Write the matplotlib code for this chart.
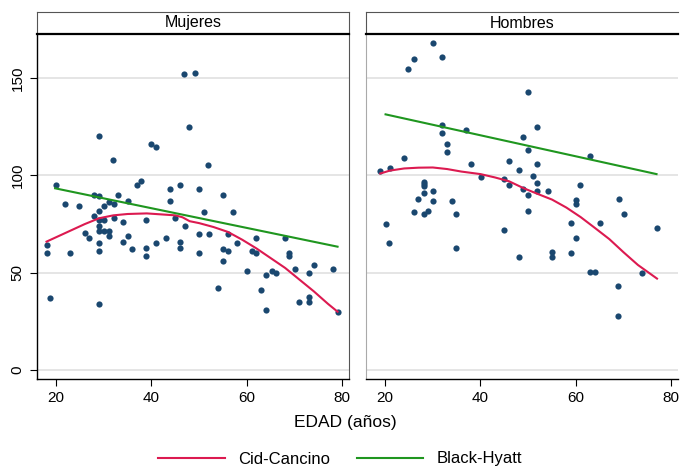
import matplotlib
matplotlib.use("Agg")
import matplotlib.pyplot as plt
from matplotlib.lines import Line2D

plt.rcParams['font.family'] = ['Liberation Sans', 'DejaVu Sans']

# --- data ---
# Mujeres
muj_edad = [46.8, 49.1, 47.9, 29.1, 40.0, 40.9, 32.0, 51.9, 20.0, 37.0, 37.9, 43.9, 46.0, 50.0, 54.9, 28.0, 29.0, 32.9,
            21.9, 24.9, 31.0, 30.0, 32.1, 35.0, 28.0, 29.0, 29.0, 30.0, 32.1, 34.0, 38.9, 29.0, 29.0, 30.0, 31.0, 31.0,
            26.0, 26.8, 35.0, 34.0, 29.0, 18.1, 18.1, 23.0, 29.0, 35.9, 38.9, 38.9, 40.9, 18.8, 29.0,
            43.9, 51.0, 57.0, 45.0, 47.0, 43.0, 46.0, 46.0, 50.0, 52.0, 50.0, 56.0, 54.9, 56.0, 58.0, 54.9, 61.0, 62.0,
            62.0, 60.0, 54.0, 62.9,
            68.0, 68.9, 68.9, 70.0, 74.0, 73.0, 78.0, 64.0, 65.2, 66.0, 64.0, 71.0, 73.0, 73.0, 79.0]
muj_val = [152.1, 152.9, 125.0, 120.2, 116.4, 114.8, 107.8, 105.2, 95.0, 95.2, 96.9, 93.0, 95.2, 93.0, 90.0, 90.0, 89.2, 90.0,
           85.1, 84.3, 86.5, 84.3, 85.1, 86.8, 79.1, 81.9, 77.1, 77.1, 78.0, 76.1, 77.1, 74.0, 71.4, 71.4, 71.4, 68.9,
           70.2, 68.0, 68.9, 65.9, 65.1, 64.2, 60.3, 60.3, 61.2, 62.0, 62.9, 58.7, 65.1, 37.2, 33.9,
           86.8, 81.0, 81.0, 78.0, 74.2, 68.0, 66.0, 62.5, 69.9, 69.9, 60.3, 69.9, 62.0, 61.2, 65.1, 55.9, 61.2, 60.3,
           68.0, 51.0, 42.0, 41.1,
           68.0, 60.3, 58.6, 51.9, 54.0, 50.0, 51.9, 48.8, 51.0, 50.0, 30.8, 34.8, 37.3, 34.8, 30.0]

muj_cid_x = [18, 22, 26, 29, 32, 35, 39, 42, 45, 46.5, 48, 50, 53, 56, 59, 62, 65, 68, 71, 74, 77, 79]
muj_cid_y = [66, 70.5, 75, 78, 79.5, 80.2, 80.5, 80, 79.5, 78.5, 76.5, 75.5, 73.5, 71, 67, 62.5, 57.5, 52.5, 46.5, 40.5, 34, 30]
muj_bh_x = [19.8, 79.0]
muj_bh_y = [93.4, 63.4]

# Hombres
hom_edad = [30.0, 31.9, 26.0, 24.9, 50.0, 31.9, 31.9, 37.0, 33.0, 33.0, 51.9, 48.9, 50.0, 24.0, 21.0, 19.0, 38.0,
            45.9, 48.0, 51.9, 62.9, 40.1, 45.0, 51.0, 60.9, 28.1, 28.1, 28.1, 28.1, 30.0, 26.9, 30.0, 34.1, 26.0,
            28.1, 29.1, 34.9, 20.1, 20.8, 34.9, 45.9, 51.9, 48.9, 51.9, 54.1, 50.0, 69.0, 60.0, 60.0, 70.0, 50.0,
            59.0, 65.0, 77.0, 45.0, 60.0, 48.0, 54.9, 54.9, 59.0, 62.9, 64.0, 73.9, 68.9, 68.9]
hom_val = [167.9, 161.0, 159.7, 154.8, 143.0, 125.9, 122.0, 123.3, 116.0, 112.0, 124.7, 119.9, 113.0, 109.1, 103.8, 102.1, 105.9,
           107.4, 103.0, 105.9, 110.0, 99.0, 98.0, 99.9, 95.1, 96.8, 95.6, 94.6, 91.1, 92.0, 88.0, 86.8, 86.8, 81.2,
           80.0, 81.9, 80.0, 75.0, 65.1, 62.9, 95.1, 95.9, 92.8, 92.0, 92.0, 89.9, 88.0, 87.4, 85.3, 80.0, 81.9,
           75.8, 75.8, 72.8, 71.9, 68.0, 58.1, 60.5, 57.9, 60.3, 50.2, 50.2, 50.0, 43.2, 28.0]

hom_cid_x = [19, 21, 24, 27, 30, 33, 36, 40, 43, 46, 49, 52, 55, 58, 61, 64, 67, 70, 73, 77]
hom_cid_y = [101, 102.5, 103.6, 104, 104.1, 103.3, 102, 100.7, 99, 97, 93.5, 90.5, 87.6, 83.5, 78.6, 73, 67.3, 60.5, 54, 47]
hom_bh_x = [20.1, 76.9]
hom_bh_y = [131.4, 100.7]

panels = [("Mujeres", muj_edad, muj_val, muj_cid_x, muj_cid_y, muj_bh_x, muj_bh_y),
          ("Hombres", hom_edad, hom_val, hom_cid_x, hom_cid_y, hom_bh_x, hom_bh_y)]

dot_col = "#1a476f"
red = "#dc1a50"
green = "#1f961f"

W, H = 680, 468
fig = plt.figure(figsize=(W / 100, H / 100), dpi=100)

lefts = [37, 366]
for i, (title, ex, vy, cx, cy, bx, by) in enumerate(panels):
    L = lefts[i]
    ax = fig.add_axes([L / W, 1 - 379 / H, 312 / W, 345 / H])
    ax.set_xlim(16, 81.4)
    ax.set_ylim(-4.6, 172.7)
    for g in [0, 50, 100, 150]:
        ax.axhline(g, color="#e3e3e3", lw=1.3, zorder=0)
    ax.scatter(ex, vy, s=20, color=dot_col, zorder=3, linewidths=0)
    ax.plot(cx, cy, color=red, lw=1.5, zorder=4)
    ax.plot(bx, by, color=green, lw=1.5, zorder=4)
    ax.set_xticks([20, 40, 60, 80])
    ax.tick_params(axis='x', length=5, width=0.8, labelsize=11, pad=4)
    ax.spines['top'].set_visible(False)
    ax.spines['bottom'].set_linewidth(1.0)
    if i == 0:
        ax.set_yticks([0, 50, 100, 150])
        ax.tick_params(axis='y', length=5, width=0.8, labelsize=11, pad=4)
        for lab in ax.get_yticklabels():
            lab.set_rotation(90)
            lab.set_va('center')
        ax.spines['left'].set_linewidth(1.0)
        ax.spines['right'].set_color("#555555")
        ax.spines['right'].set_linewidth(0.8)
    else:
        ax.set_yticks([])
        ax.spines['left'].set_color("#aaaaaa")
        ax.spines['left'].set_linewidth(0.8)
        ax.spines['right'].set_visible(False)

    hdr = fig.add_axes([L / W, 1 - 34 / H, 312 / W, 22 / H])
    hdr.set_xticks([])
    hdr.set_yticks([])
    for s in ['top', 'left', 'right']:
        hdr.spines[s].set_color("#555555")
        hdr.spines[s].set_linewidth(0.8)
    hdr.spines['bottom'].set_linewidth(1.6)
    if i == 1:
        hdr.spines['right'].set_visible(False)
    hdr.text(0.5, 0.5, title, ha='center', va='center', fontsize=11.5, transform=hdr.transAxes)

fig.text(345 / W, 1 - 423 / H, "EDAD (años)", ha='center', va='center', fontsize=12.5)

handles = [Line2D([], [], color=red, lw=1.5), Line2D([], [], color=green, lw=1.5)]
fig.legend(handles, ["Cid-Cancino", "Black-Hyatt"], loc='center', bbox_to_anchor=(340 / W, 1 - 459 / H),
           ncol=2, frameon=False, fontsize=12, handlelength=4.0, handletextpad=0.8, columnspacing=1.6)

fig.savefig("out.png", dpi=100)
